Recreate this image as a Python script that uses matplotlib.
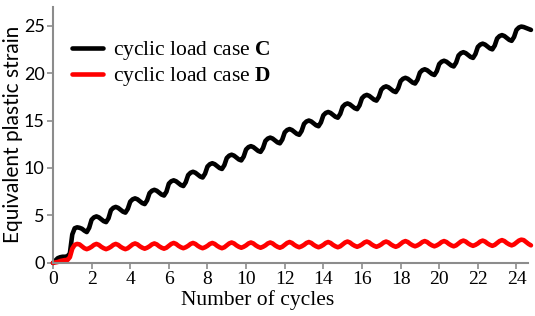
import numpy as np
import matplotlib
matplotlib.use("Agg")
import matplotlib.pyplot as plt

# sampling grid in cycles (eighth-cycle steps, 0 .. 24.75)
cycles = np.arange(0, 24.8, 0.125)

# equivalent plastic strain, case C (one row per cycle)
strain_c = [
    0.0, 0.25, 0.5, 0.6, 0.65, 0.65, 0.7, 1.0,
    3.0, 3.65, 3.75, 3.7, 3.6, 3.4, 3.25, 3.7,
    4.55, 4.8, 4.9, 4.8, 4.6, 4.4, 4.3, 4.7,
    5.55, 5.8, 5.9, 5.8, 5.6, 5.4, 5.3, 5.7,
    6.45, 6.7, 6.8, 6.7, 6.5, 6.3, 6.2, 6.6,
    7.35, 7.6, 7.7, 7.6, 7.4, 7.2, 7.1, 7.5,
    8.35, 8.6, 8.7, 8.6, 8.4, 8.2, 8.1, 8.5,
    9.25, 9.5, 9.6, 9.5, 9.3, 9.1, 9.0, 9.4,
    10.15, 10.4, 10.5, 10.4, 10.2, 10.0, 9.9, 10.3,
    11.05, 11.3, 11.4, 11.3, 11.1, 10.9, 10.8, 11.2,
    11.95, 12.2, 12.3, 12.2, 12.0, 11.8, 11.7, 12.1,
    12.85, 13.1, 13.2, 13.1, 12.9, 12.7, 12.6, 13.0,
    13.75, 14.0, 14.1, 14.0, 13.8, 13.6, 13.5, 13.9,
    14.65, 14.9, 15.0, 14.9, 14.7, 14.5, 14.4, 14.8,
    15.55, 15.8, 15.9, 15.8, 15.6, 15.4, 15.3, 15.7,
    16.45, 16.7, 16.8, 16.7, 16.5, 16.3, 16.2, 16.6,
    17.35, 17.6, 17.7, 17.6, 17.4, 17.2, 17.1, 17.5,
    18.25, 18.5, 18.6, 18.5, 18.3, 18.1, 18.0, 18.4,
    19.15, 19.4, 19.5, 19.4, 19.2, 19.0, 18.9, 19.3,
    20.05, 20.3, 20.4, 20.3, 20.1, 19.9, 19.8, 20.2,
    20.95, 21.2, 21.3, 21.2, 21.0, 20.8, 20.7, 21.1,
    21.85, 22.1, 22.2, 22.1, 21.9, 21.7, 21.6, 22.0,
    22.75, 23.0, 23.1, 23.0, 22.8, 22.6, 22.5, 22.9,
    23.65, 23.9, 24.0, 23.9, 23.7, 23.5, 23.4, 23.8,
    24.55, 24.8, 24.9, 24.85, 24.75, 24.65, 24.55,
]

# equivalent plastic strain, case D
strain_d = [
    0.0, 0.05, 0.1, 0.2, 0.25, 0.3, 0.3, 0.6,
    1.5, 1.9, 2.0, 1.95, 1.75, 1.55, 1.45, 1.55,
    1.7, 1.9, 2.0, 1.9, 1.7, 1.55, 1.45, 1.55,
    1.7, 1.9, 2.0, 1.9, 1.7, 1.55, 1.45, 1.55,
    1.75, 1.95, 2.05, 1.95, 1.75, 1.6, 1.5, 1.6,
    1.75, 1.95, 2.05, 1.95, 1.75, 1.6, 1.5, 1.6,
    1.8, 2.0, 2.1, 2.0, 1.8, 1.65, 1.55, 1.65,
    1.8, 2.0, 2.1, 2.0, 1.8, 1.65, 1.55, 1.65,
    1.8, 2.0, 2.1, 2.0, 1.8, 1.65, 1.55, 1.65,
    1.85, 2.05, 2.15, 2.05, 1.85, 1.7, 1.6, 1.7,
    1.85, 2.05, 2.15, 2.05, 1.85, 1.7, 1.6, 1.7,
    1.85, 2.05, 2.15, 2.05, 1.85, 1.7, 1.6, 1.7,
    1.9, 2.1, 2.2, 2.1, 1.9, 1.75, 1.65, 1.75,
    1.9, 2.1, 2.2, 2.1, 1.9, 1.75, 1.65, 1.75,
    1.9, 2.1, 2.2, 2.1, 1.9, 1.75, 1.65, 1.75,
    1.95, 2.15, 2.25, 2.15, 1.95, 1.8, 1.7, 1.8,
    1.95, 2.15, 2.25, 2.15, 1.95, 1.8, 1.7, 1.8,
    1.95, 2.15, 2.25, 2.15, 1.95, 1.8, 1.7, 1.8,
    2.0, 2.2, 2.3, 2.2, 2.0, 1.85, 1.75, 1.85,
    2.0, 2.2, 2.3, 2.2, 2.0, 1.85, 1.75, 1.85,
    2.0, 2.2, 2.3, 2.2, 2.0, 1.85, 1.75, 1.85,
    2.05, 2.25, 2.35, 2.25, 2.05, 1.9, 1.8, 1.9,
    2.05, 2.25, 2.35, 2.25, 2.05, 1.9, 1.8, 1.9,
    2.1, 2.3, 2.4, 2.3, 2.1, 1.95, 1.85, 1.95,
    2.15, 2.35, 2.45, 2.4, 2.2, 2.0, 1.85,
]

x_ticks = list(range(0, 25, 2))
y_ticks = [0, 5, 10, 15, 20, 25]

plt.rcParams['mathtext.fontset'] = 'custom'
plt.rcParams['mathtext.rm'] = 'Liberation Serif'
plt.rcParams['mathtext.bf'] = 'Liberation Serif:bold'

fig = plt.figure(figsize=(5.35, 3.16), dpi=100)
ax = fig.add_axes([0.099, 0.168, 0.888, 0.811])

ax.plot(cycles, strain_c, color='black', lw=3.3, solid_joinstyle='round',
        solid_capstyle='round', clip_on=False, label=r'cyclic load case $\mathbf{C}$')
ax.plot(cycles, strain_d, color='#ff0000', lw=3.3, solid_joinstyle='round',
        solid_capstyle='round', clip_on=False, label=r'cyclic load case $\mathbf{D}$')

ax.set_xlim(0, 24.6)
ax.set_ylim(0, 27)
ax.set_xticks(x_ticks)
ax.set_yticks(y_ticks)

for s in ['top', 'right']:
    ax.spines[s].set_visible(False)
for s in ['left', 'bottom']:
    ax.spines[s].set_color('#8c8c8c')
    ax.spines[s].set_linewidth(1.5)
ax.tick_params(colors='#8c8c8c', width=1.2, length=4, pad=2, labelcolor='black')

for lab in ax.get_xticklabels():
    lab.set_fontfamily('Liberation Serif')
    lab.set_fontsize(14)
for lab in ax.get_yticklabels():
    lab.set_fontfamily('Lato')
    lab.set_fontsize(13)

ax.set_xlabel('Number of cycles', family='Liberation Serif', fontsize=15.5, labelpad=0)
ax.xaxis.set_label_coords(0.43, -0.105)
ax.set_ylabel('Equivalent plastic strain', family='Lato', fontsize=15)
ax.yaxis.set_label_coords(-0.064, 0.5)

leg = ax.legend(loc='upper left', bbox_to_anchor=(0.04, 0.873), frameon=False,
                borderaxespad=0, borderpad=0,
                prop={'family': 'Liberation Serif', 'size': 15.5},
                handlelength=1.45, handletextpad=0.45, labelspacing=0.15)

fig.savefig('out.png', dpi=100)
